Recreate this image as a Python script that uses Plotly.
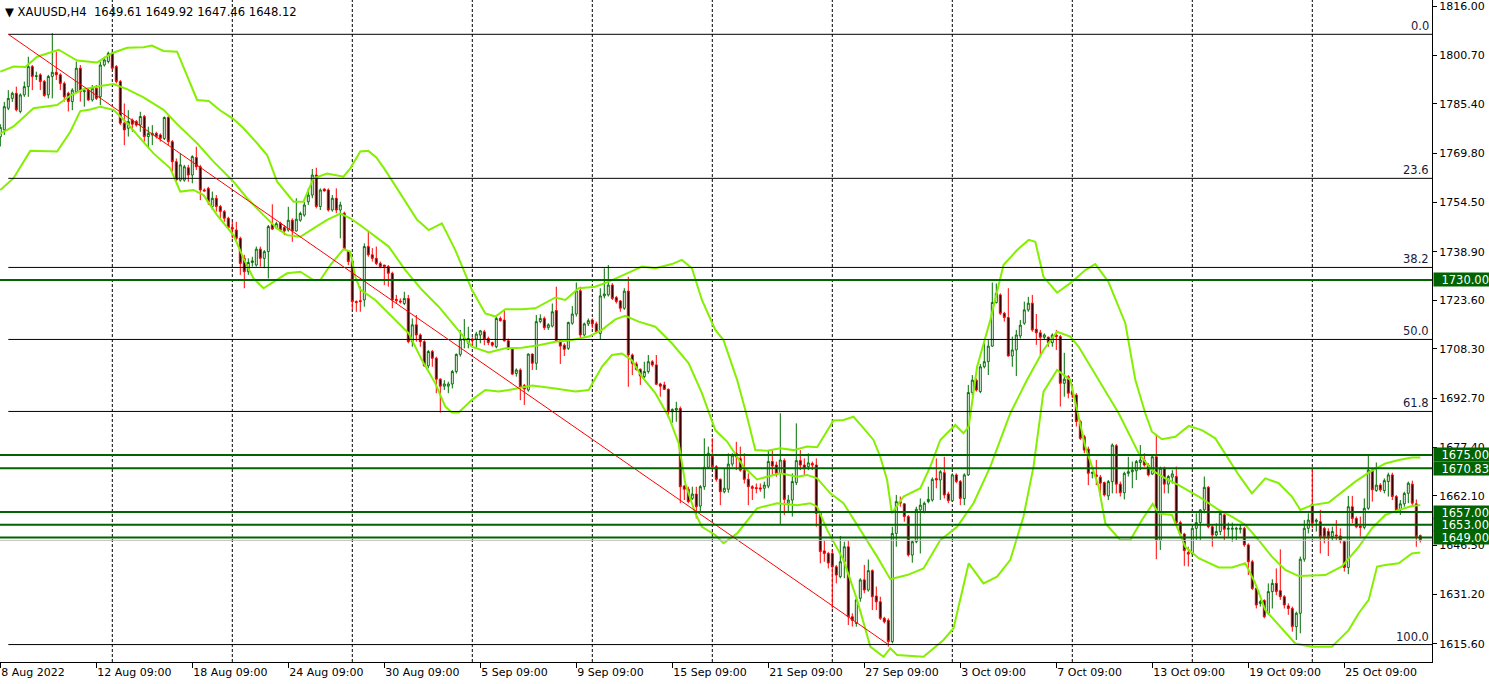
import plotly.graph_objects as go

# ---------------- DATA ----------------
opens = [1775,1777.2,1784,1787.1,1788.7,1783,1788.2,1790.8,1797.1,1794,1794.5,1792.4,1788.2,1794,1795.3,1794.5,1791.8,1788.7,1786.1,1789.2,
1796.6,1789.2,1789.7,1786.6,1790.3,1787.6,1797.6,1798.7,1801.3,1797.1,1792.4,1779.3,1777.7,1780.3,1779.8,1778.7,1781.4,1775.1,1775.6,1776.1,
1775.6,1774.5,1781.1,1773.5,1767.2,1761.4,1761.4,1765.3,1763,1768.5,1765.6,1758.3,1758.8,1753.1,1755.7,1753.1,1751.5,1749.4,1746.5,1745.7,
1743.1,1736.8,1732.6,1735.5,1734.7,1739.7,1736.8,1738.9,1747.5,1746.5,1747.8,1746.5,1745.7,1748.8,1745.4,1748.8,1750.4,1754.6,1756.7,1763,
1753.1,1758.6,1758.3,1752,1755.7,1752,1751,1739,1736,1723.2,
1723.5,1723.7,1740.5,1737.9,1736.8,1735.2,1734.7,1734.2,1732.1,1723.9,1723.4,1722.6,1724.2,1710.6,1715.9,1712.7,1710.6,1703,1707.5,1705.4,
1698.8,1696.6,1696.6,1697.3,1701.2,1706.6,1711.1,1710.1,1711.4,1711.4,1712.7,1713.7,1711.6,1710.3,1709,1717.9,1717.4,1710.9,1708.3,1700.6,
1701.7,1696.8,1695.4,1706.7,1703.8,1716.9,1717.9,1715,1715.5,1720.4,1710.9,1709.5,1708.5,1716.4,1719.3,1726.6,1712.7,1716.2,1717.4,1716.2,
1713.2,1725,1725.3,1728.4,1724.5,1723.4,1721.1,1726.5,1706.4,1703.6,1701.9,1699.6,1701.2,1704.3,1703.3,1697.3,1697,1695.6,1688.6,1689.1,
1689.6,1665.2,1664.2,1661.3,1662.7,1658.9,1665,1671.1,1674.6,
1671.3,1667.3,1663.4,1664.2,1672.1,1675.5,1673.9,1670.2,1667.3,1665,1664.7,1664.6,1664.5,1665.2,1672.9,1671.8,1669.2,1673.2,1659.8,1660.8,
1666.3,1673.2,1671.8,1671.3,1672.3,1671.8,1656.6,1644.8,1644,1644,1639.8,1636.7,1641.4,1646.1,1624.1,1622,1629.9,1635.7,1632.5,1638.6,
1630.6,1628.8,1623.6,1623,1616.3,1650.3,1660.3,1659.6,1655.6,1643.5,1647.7,1657.7,1657.1,1660.3,1660.8,1667.6,1667.1,1669.4,1662.7,1660.6,
1668.7,1666.6,1661.3,1668.7,1694.6,1698.5,1694.9,1702.7,1704.3,1709.2,1722.9,1725.3,1719.5,1718.2,1706.1,1708,1712.4,1716.4,1720.6,1722.7,
1714.5,1713.4,1712,1712,1710.3,1712.7,1712.2,1697.5,1699.6,
1694.9,1693.8,1685.5,1680.7,1676.8,1669.2,1668.7,1668,1666.3,1662.1,1666.6,1677.9,1665.8,1663.1,1669.2,1669.7,1670,1672.6,1673.4,1671.8,
1669,1674.4,1648.2,1670.8,1665.8,1668,1668.2,1653.7,1650.1,1644.3,1644,1651.9,1653.7,1657.7,1664.8,1652.4,1649.8,1650.9,1656.1,1651.6,
1651.6,1651.6,1651.6,1651.9,1646.7,1641.4,1633,1628.3,1629.2,1625.2,1632,1634.6,1632.3,1630.4,1627.5,1626.7,1621,1625.2,1642.2,1651.9,
1659.5,1654,1654,1651.9,1650.9,1649.3,1649.8,1649.5,1647.7,1639.6,1658.7,1655,1652.6,1652.2,1658.2,1670.2,1663.8,1665.5,1663.8,1666.6,
1668.7,1661.9,1657.7,1659.6,1662.9,1665.8,1659.6,1649.61]
highs = [1779,1786,1789.7,1789.2,1790.8,1788.7,1792.4,1800.2,1797.6,1795.5,1795,1792.9,1794.5,1807.6,1801.8,1795,1792.4,1789.2,1790.3,1798.7,
1797.6,1790.3,1790.3,1791.3,1791.3,1798.7,1800.2,1801.8,1801.8,1797.6,1792.9,1785.5,1783.4,1780.8,1780.3,1782.9,1781.9,1778.2,1778.7,1776.6,
1776.1,1781.4,1781.9,1774,1768.2,1769.8,1766.2,1766.2,1769.2,1771.9,1766.2,1758.8,1759.3,1757.8,1756.7,1753.6,1752,1749.9,1748.3,1748.3,
1743.6,1737.9,1736.8,1737.3,1740.5,1740.5,1739.4,1747.3,1753.8,1748.3,1748.3,1747.3,1753,1749.4,1755.7,1751.5,1754.6,1758.8,1764.9,1765.3,
1758.8,1758.8,1758.8,1756.7,1758.8,1754.6,1751.5,1739.4,1736.3,1723.6,
1727.9,1741.5,1745.2,1740,1740.5,1735.8,1734.7,1734.7,1732.6,1725.3,1724.2,1726.3,1725.3,1717.9,1719,1713.2,1711.1,1708,1708,1705.9,
1699.1,1698.5,1698,1701.7,1706.9,1714.3,1717.7,1715.3,1712,1713.7,1714.3,1714.3,1712.2,1710.6,1718.5,1718.5,1720.4,1711.6,1708.8,1702.2,
1702.2,1697.3,1706.9,1706.9,1719,1719.2,1718.5,1716.4,1722.6,1727.9,1711.3,1710.1,1716.9,1721.8,1729.2,1727.9,1716.6,1717.9,1717.9,1716.9,
1727.4,1733.7,1734.7,1729,1725,1723.7,1727.4,1731,1706.9,1704.3,1702.2,1704.3,1706.4,1704.8,1706.4,1697.7,1698,1695.9,1689.6,1691.7,
1690.2,1665.5,1665,1665,1665,1665.5,1680.2,1677.6,1680.2,
1671.8,1667.6,1670.8,1675.5,1675.5,1679.1,1677.6,1675.5,1669.2,1665.5,1666,1666,1666.6,1676.5,1676.5,1672.9,1688.1,1673.9,1662.4,1669.2,
1684.9,1676.5,1673.9,1675.5,1672.9,1673.9,1657.1,1648.2,1644.5,1645.1,1640.4,1649.5,1647.7,1647.9,1625.2,1629.9,1636.2,1640.4,1642.1,1639,
1633.6,1630.4,1624.1,1623.6,1652.4,1662.4,1661.9,1659.8,1656.1,1648.2,1658.7,1661.3,1660.3,1665,1667.9,1673.9,1670.2,1674.4,1663.4,1669.2,
1669.2,1667.1,1669.2,1697,1700.1,1699.1,1703.6,1710.1,1711.1,1729.2,1728.9,1725.8,1720,1727.4,1712.2,1714.3,1717.4,1723.2,1724.7,1725.3,
1719.3,1714.3,1713.2,1712.2,1713.2,1714.3,1712.7,1707.1,1700.1,
1695.5,1694.4,1686,1681.3,1677.6,1669.7,1673.4,1668.7,1666.6,1667.1,1678.6,1678.4,1666.6,1669.7,1674.4,1672.9,1673.4,1678.1,1675.5,1672.4,
1675,1681.6,1671.3,1671.3,1668.7,1670.2,1671.3,1654.3,1650.5,1646.1,1652.4,1656.6,1657.9,1668.2,1665.2,1653,1653.5,1657.7,1656.6,1653.7,
1653.7,1652.4,1653,1652.4,1647.2,1642,1633.6,1629.4,1629.6,1634.6,1635.9,1639.3,1645.3,1630.9,1628.3,1627.3,1625.7,1643,1654.5,1656.6,
1670.5,1655,1657.7,1652.4,1651.9,1652.4,1654.5,1651.9,1648.2,1662.1,1662.1,1655.6,1655.6,1661.3,1674.7,1670.8,1672.6,1666.1,1667.6,1669.4,
1669.4,1662.4,1660.8,1663.4,1666.6,1666.9,1661,1649.92]
lows = [1772,1775.6,1783.4,1786,1783,1782.4,1787.6,1787.6,1789.7,1792.9,1789.7,1787.6,1787.1,1787.1,1792.9,1789.7,1786.1,1783,1783.4,1788.7,
1786.1,1784.5,1786.3,1786.1,1786.6,1785,1797.1,1798.1,1796.3,1791.8,1778.7,1772.4,1775.1,1776.6,1778.2,1776.6,1773.5,1771.4,1772.4,1774.5,
1773.5,1774,1772.4,1764.1,1760.9,1760.9,1760.9,1760.9,1760.4,1764.6,1755.1,1757.8,1753.6,1752,1751.5,1749.4,1748.3,1746.2,1743.1,1742.6,
1731.6,1727.4,1731.6,1734.2,1734.2,1734.2,1733.7,1730.5,1745.7,1746,1745.2,1744.1,1745.2,1742,1745.2,1748.3,1749.9,1753.6,1755.7,1752.5,
1752,1757.8,1751.5,1751.5,1751,1743.1,1739.4,1734.7,1720.6,1720,
1720,1721.6,1737.3,1735.8,1734.7,1733.7,1728.4,1727.9,1721.1,1722.6,1722.6,1722.1,1710.1,1709,1710.6,1709,1702.7,1702.2,1702.7,1694.4,
1688.3,1695.4,1694.4,1695.9,1700.6,1705.9,1708.5,1708.5,1709.5,1708.5,1710.1,1709.5,1709.5,1709,1708.5,1716.9,1710.6,1708,1700.1,1699.6,
1692.2,1690.7,1694.9,1701.7,1701.7,1716.4,1714.3,1714.3,1715.1,1710.6,1703.6,1706.1,1708,1715.9,1718.5,1711.6,1712.2,1715.5,1714.8,1713.2,
1711.4,1724.2,1724.8,1723.7,1722.6,1720,1720.6,1696.4,1700.1,1701.5,1697,1699.1,1700.6,1702.7,1697,1693.3,1695.4,1686.5,1685.1,1685.4,
1659.8,1660.8,1659.8,1660.8,1655,1657.1,1664,1670.8,1670.8,
1666.6,1659.2,1662.9,1663.1,1671.3,1670.2,1669.7,1666,1659.2,1660.8,1662.9,1663.4,1661.3,1664.5,1668.7,1668.1,1652.9,1656.1,1657.1,1655.6,
1665.5,1670.2,1668.7,1670.2,1670.2,1652.4,1640.9,1641.4,1639.3,1626.7,1634.6,1636.2,1636.2,1621.5,1621,1621,1628.8,1631.5,1632,1626.2,
1626.2,1623.1,1622,1614.7,1615.7,1646.1,1658.7,1654,1643,1641.1,1647.2,1644,1656.6,1659.8,1660.3,1664.5,1660.8,1661.3,1659.8,1660.3,
1666.1,1659.2,1659.2,1668.4,1693.8,1694.9,1694.4,1702.2,1700.1,1709,1722.6,1719,1716.9,1705.9,1702.7,1699.8,1711.6,1715.9,1720,1713.7,
1709.6,1706.4,1711.1,1709,1709,1708,1690.2,1693.3,1692.8,
1692.8,1683.9,1679.7,1675.5,1665.5,1667.6,1665.5,1661.9,1661.9,1660.8,1662.9,1662.9,1661.9,1661,1668.2,1664.5,1667.1,1670.2,1671.3,1668.2,
1668.7,1642.2,1645.1,1662.9,1662.9,1666,1653,1649.3,1640.1,1639.9,1643.5,1648.2,1648.2,1656.6,1651.9,1646.1,1649.3,1649.8,1648.2,1649.3,
1647.7,1648.2,1650.3,1646.1,1637.2,1632.5,1626.7,1627.3,1623.6,1624.7,1626.7,1630.9,1629.4,1626.7,1624.7,1619.4,1616.8,1618.9,1641.4,1650.3,
1651.9,1650.9,1644,1647.2,1643.2,1648,1648.2,1647.2,1638.3,1637.5,1653.5,1651.9,1649.3,1651.6,1657.7,1660.3,1663.4,1663.4,1662.9,1661.9,
1660.8,1656.6,1656.1,1658.7,1659.8,1659.2,1646.1,1647.46]
closes = [1778,1784.5,1787.1,1788.7,1783.5,1788.2,1790.8,1797.1,1794,1794.2,1792.4,1788,1794,1795.3,1794.5,1791.8,1787.6,1786.1,1789.7,1796.6,
1789.2,1789.5,1786.6,1790.3,1787.1,1797.6,1799.2,1801.3,1796.6,1792.4,1779.3,1777.2,1779.8,1779,1778.7,1781.4,1775.1,1776.1,1776.1,1775.1,
1774.5,1781.1,1773.5,1767.2,1761.4,1766.2,1765.6,1763,1768.8,1765.6,1758.3,1758,1754.6,1755.7,1753.1,1751.5,1749.4,1746.5,1746,1743.1,
1735.2,1732.6,1735.5,1736,1739.7,1736.8,1738.9,1746.8,1746,1747.7,1745.7,1745.4,1748.8,1745.4,1749.1,1750.9,1753.6,1756.7,1763,1753.1,
1758.3,1758,1752,1755.7,1752,1753.6,1739.9,1735.8,1723.2,1722.9,
1723.2,1740.5,1737.9,1736.8,1735.2,1734.2,1734.2,1732.1,1723.7,1723.5,1723.1,1724.2,1710.6,1715.9,1712.7,1710.6,1703,1707.5,1705.4,1698.8,
1696.6,1697.3,1697.3,1701.2,1706.6,1711.4,1711.6,1711.6,1711,1713,1714,1711.4,1710.3,1709.5,1717.9,1717.2,1710.9,1708.3,1700.4,1701.7,
1696.4,1695.7,1706.7,1703.8,1716.9,1717.9,1715,1715.9,1720,1710.9,1709.2,1708.2,1716.6,1719.3,1726.6,1712.7,1716.2,1717.2,1716.2,1713.7,
1725,1725.6,1728.4,1724.2,1723.2,1721.1,1726.5,1706.4,1703.8,1701.9,1699.8,1701.2,1704.3,1703.3,1697.2,1696.6,1695.6,1688.6,1689.3,1689.6,
1665,1664.2,1660.3,1662.7,1658.7,1665,1671.1,1675.5,1671.3,
1667.3,1663.4,1664.5,1672.1,1674.9,1674.4,1670.2,1667.3,1665,1664.5,1664.4,1664.3,1665.5,1672.9,1671.5,1669.2,1673.4,1661,1660.8,1666.6,
1673.2,1671.8,1670.8,1672.5,1671.8,1656.6,1644.6,1644,1641,1639.8,1637.2,1641.4,1646.1,1624.1,1623,1629.4,1635.7,1632.5,1638.6,1630.4,
1628.8,1623.6,1622.5,1616.3,1650.3,1660.3,1659.8,1655.6,1643.5,1647.7,1657.9,1659.2,1659.8,1661,1667.3,1667.1,1669.7,1662.4,1660.6,1668.7,
1666.6,1661.3,1668.7,1694.6,1698.5,1695.4,1702.7,1704.3,1709.2,1722.9,1725.8,1719.5,1718.2,1706.1,1708,1712.7,1715.8,1720.6,1722.7,1714.3,
1713.4,1712,1712.7,1710.3,1712.7,1712.2,1697.5,1698.8,1694.4,
1694,1685.5,1680.2,1676.5,1669.2,1669.5,1668.2,1666.1,1662.4,1666.6,1678.1,1665.8,1663.1,1669.2,1669.7,1670.2,1672.9,1673.4,1671.8,1668.7,
1674.4,1648.2,1670.8,1665.8,1668.2,1669,1653.7,1650.1,1644.9,1643.8,1651.9,1653.7,1657.7,1664.8,1652.4,1649.8,1650.9,1656.6,1651.6,1651.9,
1651.9,1651.9,1651.9,1646.7,1641.4,1633,1627.8,1628.8,1624.1,1632,1634.6,1632,1630.4,1627.8,1626.7,1621,1625.2,1642.2,1651.9,1654.5,
1653.5,1654.5,1649.3,1649.3,1649.3,1650.9,1649.5,1648.2,1639.6,1658.7,1655,1652.4,1652.2,1658.2,1670.2,1664,1665.5,1664,1666.9,1668.7,
1661.9,1657.7,1659.6,1662.9,1666.1,1659.8,1649.3,1648.12]

# Bollinger bands (bar position, price)
bb_upper_x = [0,3.3,6.25,9.2,14.6,19.2,24.2,27.9,31.7,35.8,37.9,40.8,44.2,46.25,49.2,52.1,55,58.3,60.8,64.2,66.7,69.2,73.3,75.8,78.3,81.7,85.8,87.5,
              90,92,94,96,98,100,102,104.2,107.1,110.4,113.75,117.9,121.25,123.75,126.25,130.4,133.75,138.75,141.25,144.6,148.75,152.1,157.1,160.4,
              163.75,167.9,170.4,172.9,175.4,178.75,180.8,184.2,186.7,188.75,191.7,195,198.3,201.7,204.2,205.8,208.3,210.8,213.3,215.8,218.3,220,
              221.7,222.9,225.8,230,232.5,235,238.75,240.8,242.1,244.2,247.5,250.8,254.2,257.1,258.75,260.8,264.2,267.5,271.25,273.75,275.75,277,
              281.25,283.75,286.25,287.9,290.4,293.75,297.1,300.4,303.75,307.1,309.6,312.9,316.25,319.6,322.9,325,327.9,332.1,335.4,338.75,342.1,
              346.25,349.6,352.9,355]
bb_upper_y = [1795.5,1797.1,1797,1800.2,1802.4,1799,1798.4,1801.3,1803,1803.2,1803.7,1802,1801.8,1795.5,1786.6,1786.3,1783.3,1780.6,1777.7,1773,1769.3,1760.9,1754.6,1754.6,
              1762,1763.5,1762.5,1765.1,1770.4,1770.6,1768.5,1765,1761,1757,1753,1748.9,1745.7,1747.8,1739.4,1726.9,1719.5,1718.5,1720.8,1720.8,1721.1,
              1724.5,1723.7,1727.4,1727.9,1729.5,1732.3,1734.2,1733.7,1735,1736.3,1733.7,1723.7,1714.3,1711.1,1698.6,1687,1676.5,1676.3,1677.1,1676.5,
              1677.6,1677.4,1680.7,1685.8,1686,1687,1683.4,1679.7,1674.4,1667.1,1656.6,1661.9,1664.5,1671.3,1679.7,1684.4,1681.8,1683.9,1702.7,1717.4,
              1734.7,1739.4,1742.6,1742,1731,1726,1729,1733.1,1735,1731.6,1729.5,1716.4,1698.6,1688.1,1682.3,1679.9,1680.7,1684.1,1682.8,1680.2,1673.4,
              1668.7,1662.9,1667.6,1666.1,1661.9,1657.7,1659.2,1660,1663.4,1666.6,1669.4,1672.3,1673.4,1674.2,1674.2]
bb_mid_x = [0,3.3,8.3,14.2,17.5,20.8,25,28.3,31.7,35.8,40.8,44.2,49.2,53.3,58.3,61.7,65.8,69.2,71.7,75,78.3,81.7,85,87.5,90,93.75,97.1,101.25,
            105.4,109.6,113.75,117.9,122.1,126.25,130.4,134.6,138.75,142.9,147.1,150.4,153.75,156.25,159.6,163.75,167.9,172.1,175.4,178.75,181.7,
            185.8,189.2,195,199.2,201.7,204.2,207.5,210.8,215,219.2,222.5,226.7,230.8,235,239.2,243.3,247.5,252.5,256.7,260.8,264.2,267.5,269.6,
            274.6,279.6,284.6,287.9,291.25,294.6,299.6,304.6,307.9,311.25,314.6,317.9,321.25,324.6,331.25,335.4,339.6,342.9,346.25,349.6,352.9,355]
bb_mid_y = [1776,1778.3,1784,1785,1788,1790,1791,1791.6,1790,1787.4,1783.5,1779,1773,1767.2,1760.9,1755.7,1750.4,1746.2,1744.1,1743.6,1746.2,1748.9,
            1750.9,1749.4,1747.2,1743.6,1740.5,1733.1,1726.9,1721.6,1715.3,1709,1707.2,1708.5,1708.7,1709.5,1710.6,1711.1,1712.2,1714.3,1717.6,1718.7,
            1716.9,1715.3,1710.1,1703.8,1694.4,1682.8,1679.2,1671.3,1667.3,1669.2,1668.1,1668.7,1667.6,1662.9,1659.8,1651.4,1643,1635.9,1637.2,1639.3,
            1648.2,1652.4,1659.8,1671.3,1688.1,1698.6,1708,1713.7,1712.2,1709,1698.6,1688.1,1675.5,1670.2,1667.6,1665.5,1661.9,1657.7,1655.6,1653,
            1648.2,1643,1638.8,1636.9,1637.2,1639.9,1646.1,1651.9,1656.1,1657.7,1658.9,1659.2]
bb_lower_x = [0,3.3,7.5,14.2,17.5,20,22.5,25,28.3,31.7,35,38.3,42.5,45,48.3,50.8,54.2,58.3,60.8,63.3,65.8,68.3,71.7,75,78.3,80,82.5,85.8,87.5,
              88.75,90,93.75,97.9,102.1,105.4,108.75,111.25,112.9,114.6,117.9,121.25,124.6,127.1,133,138.75,143.75,147.1,150.4,152.9,155.4,157.9,
              160.4,163.75,167.1,169.6,171.25,173.75,175.4,178.75,180.8,184.2,189.2,194.2,199.2,202.5,204.2,206.7,210.8,214.2,217.5,220.8,222.5,
              224.2,230.8,235.8,238.3,242.1,245.8,249.2,252.5,255.8,258.3,260.8,264.2,267.5,271.25,274.6,276.25,280,282.5,285.4,288.1,289.6,292.9,
              296.25,299.6,304.6,307.9,311.25,313.75,316.25,320.4,323.75,327.9,332.9,337.1,339.6,342.1,344.2,346.25,349.6,352.9,355]
bb_lower_y = [1758.3,1762,1770.6,1770.4,1776.6,1783.1,1783.6,1784.5,1783.5,1779.3,1774.5,1769.8,1765.1,1757.8,1758.3,1756.7,1750.4,1744.1,1736.8,
              1730.5,1727.4,1729.5,1732.1,1732.6,1730,1730,1734.7,1739.7,1738.9,1731,1727,1723.7,1718.5,1713.2,1704.8,1697.5,1690.2,1688.3,1688.3,
              1692.3,1695.4,1694.9,1695.4,1696.8,1695.9,1694.9,1695.4,1702.7,1706.4,1706.9,1704.8,1699.6,1694.4,1687,1678.6,1666,1656.6,1652.4,1649.8,
              1647.2,1650.3,1658.2,1659.8,1659.2,1659.8,1658.7,1651.4,1642,1629.4,1614.7,1611.5,1614.2,1612.1,1611.5,1616.8,1620.5,1640.9,1634.6,
              1636.7,1642,1655.6,1671.3,1694.9,1701.7,1698.6,1677.6,1665,1653.5,1648.2,1648.2,1654.5,1659.6,1656.6,1656.1,1646.1,1642.5,1639.6,1639.6,
              1640.9,1634.6,1626.2,1620.5,1615.7,1614.7,1614.7,1619.9,1625.2,1629.4,1639.9,1640.4,1640.9,1644,1644.3]

date_labels = ["8 Aug 2022", "12 Aug 09:00", "18 Aug 09:00", "24 Aug 09:00", "30 Aug 09:00", "5 Sep 09:00",
               "9 Sep 09:00", "15 Sep 09:00", "21 Sep 09:00", "27 Sep 09:00", "3 Oct 09:00", "7 Oct 09:00",
               "13 Oct 09:00", "19 Oct 09:00", "25 Oct 09:00"]
date_label_bars = [0, 24, 48, 72, 96, 120, 144, 168, 192, 216, 240, 264, 288, 312, 336]
price_ticks = [1816.00, 1800.70, 1785.40, 1769.80, 1754.50, 1738.90, 1723.60, 1708.30, 1692.70,
               1677.40, 1662.10, 1646.50, 1631.20, 1615.60]
levels = [1730.00, 1675.00, 1670.83, 1657.00, 1653.00, 1649.00]
fib_anchor_bars = [2, 222]
fib_anchor_prices = [1807.25, 1615.35]
fib_ratios = [0.0, 23.6, 38.2, 50.0, 61.8, 100.0]
week_separator_bars = [28, 58, 88, 118, 148, 178, 208, 238, 268, 298, 328]
last_quote = ["1649.61", "1649.92", "1647.46", "1648.12"]
bid_price = 1648.12

# ---------------- FIGURE ----------------
N = len(closes)
bars = list(range(N))
X0, X1 = -0.075, 357.925
Y0, Y1 = 1609.87, 1818.04
FONT = "DejaVu Sans"
BULL = "#007000"
LEVEL = "#006400"
BAND = "#84F000"

fig = go.Figure()
fig.add_trace(go.Candlestick(
    x=bars, open=opens, high=highs, low=lows, close=closes,
    increasing=dict(line=dict(color=BULL, width=1), fillcolor="white"),
    decreasing=dict(line=dict(color="#FF0000", width=1), fillcolor="black"),
    whiskerwidth=0, hoverinfo="skip", showlegend=False))

for bx, by in [(bb_upper_x, bb_upper_y), (bb_mid_x, bb_mid_y), (bb_lower_x, bb_lower_y)]:
    fig.add_trace(go.Scatter(x=bx, y=by, mode="lines", line=dict(color=BAND, width=2),
                             hoverinfo="skip", showlegend=False))

shapes = []
# weekly dashed separators
for b in week_separator_bars:
    shapes.append(dict(type="line", xref="x", yref="paper", x0=b, x1=b, y0=0, y1=1,
                       line=dict(color="black", width=1, dash="3px,2px"), layer="below"))
# fibonacci levels
hi, lo = fib_anchor_prices
fib_prices = [hi - r / 100.0 * (hi - lo) for r in fib_ratios]
for fp in fib_prices:
    shapes.append(dict(type="line", xref="x", yref="y", x0=fib_anchor_bars[0], x1=X1, y0=fp, y1=fp,
                       line=dict(color="black", width=1), layer="above"))
# fib trend line
shapes.append(dict(type="line", xref="x", yref="y", x0=fib_anchor_bars[0], x1=fib_anchor_bars[1],
                   y0=hi, y1=lo, line=dict(color="#FF0000", width=1), layer="above"))
# bid line
shapes.append(dict(type="line", xref="paper", yref="y", x0=0, x1=1, y0=bid_price, y1=bid_price,
                   line=dict(color="#C0C0C0", width=1), layer="above"))
# horizontal levels
for lv in levels:
    shapes.append(dict(type="line", xref="paper", yref="y", x0=0, x1=1, y0=lv, y1=lv,
                       line=dict(color=LEVEL, width=2), layer="above"))

annotations = []
for r, fp in zip(fib_ratios, fib_prices):
    annotations.append(dict(xref="paper", yref="y", x=1, y=fp, xanchor="right", yanchor="bottom",
                            xshift=-1, yshift=-1, text=f"{r:.1f}", showarrow=False,
                            font=dict(family=FONT, size=11.5, color="#1a1a3a")))
for lv in levels:
    annotations.append(dict(xref="paper", yref="y", x=1, y=lv, xanchor="left", yanchor="middle",
                            xshift=1, text=f"{lv:.2f}", showarrow=False, width=55, height=13,
                            align="right", bgcolor=LEVEL, borderpad=0,
                            font=dict(family=FONT, size=11.5, color="white")))
annotations.append(dict(xref="paper", yref="paper", x=0, y=1, xanchor="left", yanchor="top",
                        xshift=3, yshift=-3, showarrow=False,
                        text="▼ XAUUSD,H4  " + " ".join(last_quote),
                        font=dict(family=FONT, size=11.6, color="black")))

fig.update_layout(
    width=1489, height=684,
    margin=dict(l=0, r=57, t=0, b=22),
    paper_bgcolor="white", plot_bgcolor="white",
    showlegend=False, shapes=shapes, annotations=annotations,
    hovermode=False,
    xaxis=dict(range=[X0, X1], tickmode="array", tickvals=date_label_bars, ticktext=date_labels,
               ticks="outside", ticklen=5, tickcolor="black", ticklabelposition="outside right",
               showline=True, linecolor="black", linewidth=1, showgrid=False, zeroline=False,
               rangeslider=dict(visible=False), tickfont=dict(family=FONT, size=11, color="black")),
    yaxis=dict(range=[Y0, Y1], side="right", tickmode="array", tickvals=price_ticks,
               ticktext=[f"{p:.2f}" for p in price_ticks], ticks="outside", ticklen=4,
               tickcolor="black", showline=True, linecolor="black", linewidth=1,
               showgrid=False, zeroline=False, tickfont=dict(family=FONT, size=11, color="black")),
)

fig.write_html("out.html", config={"displayModeBar": False},
               post_script="document.body.style.margin='0';document.body.style.overflow='hidden';")
